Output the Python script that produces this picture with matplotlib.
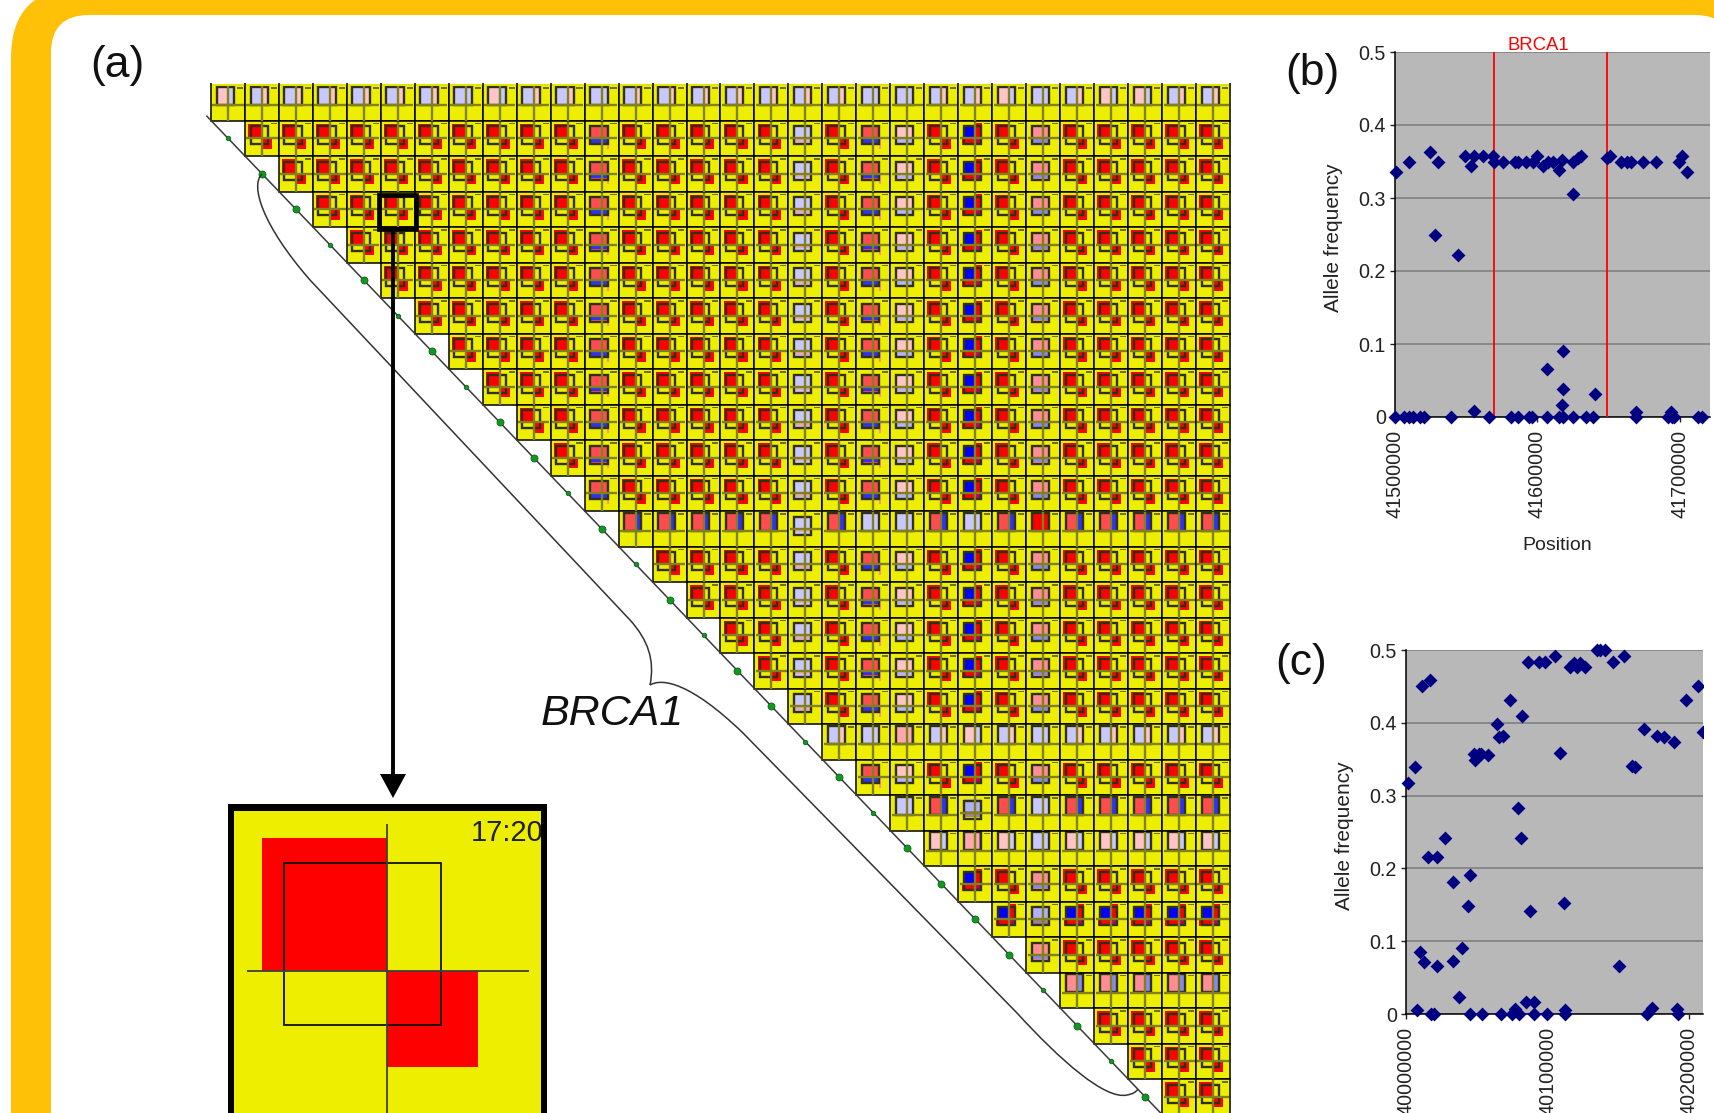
import matplotlib

matplotlib.use("Agg")
import matplotlib.pyplot as plt
from matplotlib.patches import FancyBboxPatch, PathPatch, Polygon, Rectangle
from matplotlib.path import Path
from matplotlib.transforms import Bbox, TransformedBbox

plt.rcParams["font.family"] = ["Liberation Sans", "DejaVu Sans"]

W, H = 1715, 1113

# ---- LD triangle: one letter per cell, each row starts on the diagonal
NORMAL = "nnnnnnnnnnnhnnnnnknhpnbnqnnnnn"
LD_ROWS = {
    0: "wvvvvvvlwvvlvvvvvvvllvvwlvwwvv",
    12: "xxxxxkxllxlxrxxxxx",
    18: "vlsvwvlvvvvv",
    20: "lxmxlxxxxx",
    21: "wswlwwwww",
    23: "bmbbbbb",
    25: "ttttt",
}
N_ROWS = 29
MARKER_CLASS = list("sLLsLsLsLLsLsLsLLsLsLLLLsLsL")

# ---- panel (b)
B_X = [41500700, 41510100, 41524600, 41530400, 41528100, 41544400, 41549100, 41553100,
       41555400, 41562000, 41568500, 41569500, 41576000, 41584200, 41586500, 41591900,
       41596600, 41599400, 41604100, 41607600, 41610600, 41615300, 41617000, 41624700,
       41625100, 41628600, 41630300, 41649000, 41650900, 41658400, 41662600, 41665400,
       41673800, 41683100, 41699500, 41701200, 41704700,
       41618100, 41606900, 41618100, 41640300, 41617400, 41555400, 41668900, 41693700,
       41500000, 41506300, 41510100, 41512900, 41517500, 41520300, 41539100, 41565700,
       41581200, 41586500, 41594300, 41596400, 41606900, 41615300, 41618100, 41625100,
       41634000, 41639200, 41668900, 41691800, 41694100, 41695800, 41712800, 41715200]
B_Y = [.336, .350, .3625, .350, .249, .222, .357, .344,
       .357, .357, .357, .350, .350, .350, .350, .350,
       .350, .357, .344, .350, .350, .338, .352, .306,
       .350, .355, .357, .355, .357, .350, .350, .350,
       .350, .350, .350, .357, .336,
       .091, .066, .039, .032, .016, .008, .007, .007,
       0, 0, 0, 0, 0, 0, 0, 0,
       0, 0, 0, 0, 0, 0, 0, 0,
       0, 0, 0, 0, 0, 0, 0, 0]
B_GENE = [41569474, 41648772]
B_XTICKS = [41500000, 41600000, 41700000]

# ---- panel (c)
C_X = [40001200, 40006600, 40011000, 40017100, 40015700, 40021800, 40027700, 40033500,
       40045000, 40043900, 40009800, 40012900, 40021800, 40033500, 40039400, 40037100,
       40048100, 40048500, 40051600, 40053200, 40057900, 40064500, 40065700, 40068500,
       40073200, 40081600, 40079300, 40080900, 40087900, 40086300, 40093800, 40097800,
       40105100, 40109000, 40111900, 40116100, 40118400, 40120800, 40122600, 40126200,
       40134800, 40137200, 40140700, 40146100, 40153600, 40150100, 40159500, 40161800,
       40168100, 40177000, 40182200, 40189500, 40197400, 40206400, 40209900,
       40007700, 40084400, 40090300, 40076900, 40112600, 40173500, 40191100,
       40017600, 40019900, 40045000, 40053900, 40066800, 40075000, 40079700, 40090300,
       40099700, 40112600, 40170000, 40192300]
C_Y = [.317, .339, .450, .459, .215, .215, .242, .182,
       .191, .149, .085, .072, .066, .073, .091, .023,
       .357, .349, .357, .357, .356, .398, .380, .382,
       .432, .409, .283, .242, .141, .483, .483, .483,
       .492, .358, .152, .476, .482, .476, .482, .476,
       .500, .500, .500, .483, .492, .066, .341, .339,
       .392, .382, .380, .374, .432, .450, .387,
       .006, .016, .016, .007, .006, .008, .007,
       0, 0, 0, 0, 0, 0, 0, 0,
       0, 0, 0, 0]
C_XTICKS = [40000000, 40100000, 40200000]
Y_TICKS = [0, 0.1, 0.2, 0.3, 0.4, 0.5]
Y_LABELS = ["0", "0.1", "0.2", "0.3", "0.4", "0.5"]

YELLOW = "#EEEE00"
RED = "#FF0000"
LAV = "#C8C8FF"
PINK = "#FFC4C8"
SRED = "#FF4C50"
SBLUE = "#3030F8"
MPINK = "#FF8C96"
MLAV = "#8888F0"

# what is painted inside a cell, in fractions of the cell
GLYPHS = {
    "N": [(.09, .085, .5, .5, RED), (.5, .5, .795, .80, RED)],
    "n": [(.09, .085, .5, .5, RED), (.5, .5, .795, .80, RED), (.48, .47, .54, .53, "#5030C0")],
    "h": [(.16, .14, .67, .5, SRED), (.16, .5, .67, .62, SBLUE), (.16, .62, .67, .68, SRED),
          (.67, .5, .72, .8, "#FF9090")],
    "p": [(.16, .14, .67, .5, PINK), (.16, .5, .67, .62, "#B4B4F8"), (.16, .62, .67, .68, PINK)],
    "q": [(.16, .14, .67, .5, MPINK), (.16, .5, .67, .62, MLAV), (.16, .62, .67, .68, MPINK)],
    "k": [(.16, .14, .67, .48, LAV), (.16, .48, .67, .6, "#E8A8B0"), (.16, .6, .67, .68, LAV)],
    "l": [(.16, .05, .67, .55, LAV)],
    "b": [(.5, .08, .7, .5, RED), (.1, .5, .5, .7, RED), (.16, .16, .5, .5, "#0000FF"),
          (.5, .5, .66, .66, "#C00060")],
    "v": [(.16, .05, .5, .55, LAV), (.5, .05, .66, .55, PINK)],
    "w": [(.16, .05, .46, .55, PINK), (.46, .05, .66, .55, LAV)],
    "t": [(.16, .05, .46, .55, MPINK), (.46, .05, .66, .55, MLAV)],
    "x": [(.16, .05, .48, .55, SRED), (.48, .05, .64, .55, SBLUE)],
    "r": [(.16, .05, .67, .55, RED)],
    "s": [(.16, .05, .67, .55, "#FFA8B0"), (.6, .05, .67, .55, "#A08098")],
    "m": [(.16, .12, .67, .46, "#B0B0F8"), (.16, .46, .67, .62, "#A08098")],
}
HIGH_KINDS = "lvwtxrs"  # these sit higher in their cell


def px_axes(fig, x0, y0, x1, y1, zorder=1):
    ax = fig.add_axes([x0 / W, 1 - y1 / H, (x1 - x0) / W, (y1 - y0) / H], zorder=zorder)
    ax.patch.set_alpha(0)
    return ax


def draw_glyph(ax, col, row, kind, cross, square, cross_lw, square_lw):
    for x0, y0, x1, y1, colour in GLYPHS[kind]:
        ax.add_patch(Rectangle((col + x0, row + y0), x1 - x0, y1 - y0, fc=colour, ec="none"))
    hy, sy, sh = (.57, .05, .5) if kind in HIGH_KINDS else (.5, .1625, .5075)
    ax.plot([col + .043, col + .96], [row + hy, row + hy], color=cross, lw=cross_lw, solid_capstyle="butt")
    ax.plot([col + .5, col + .5], [row + .04, row + 1], color=cross, lw=cross_lw, solid_capstyle="butt")
    ax.add_patch(Rectangle((col + .163, row + sy), .511, sh, fc="none", ec=square, lw=square_lw))


def scatter_panel(ax, xs, ys, xlim, xticks):
    ax.set_facecolor("#B8B8B8")
    ax.patch.set_alpha(1)
    ax.set_xlim(*xlim)
    ax.set_ylim(0, 0.5)
    ax.set_yticks(Y_TICKS, Y_LABELS)
    ax.set_xticks(xticks, [str(t) for t in xticks], rotation=90)
    ax.tick_params(axis="y", labelsize=14.2, length=3.5, width=1, pad=3, colors="#222222")
    ax.tick_params(axis="x", labelsize=14.2, length=3.5, width=1, pad=6, colors="#222222")
    ax.yaxis.grid(True, color="#808080", lw=1.2)
    ax.set_axisbelow(True)
    for side in ["top", "right"]:
        ax.spines[side].set_visible(False)
    for side in ["left", "bottom"]:
        ax.spines[side].set_linewidth(1.1)
    pts = ax.scatter(xs, ys, marker="D", s=50, color="#000080", linewidths=0, zorder=5)
    pts.set_clip_box(TransformedBbox(Bbox([[-0.03, -0.05], [1, 1.05]]), ax.transAxes))


fig = plt.figure(figsize=(W / 100, H / 100), dpi=100, facecolor="white")

# page background
bg = px_axes(fig, 0, 0, W, H, zorder=0)
bg.set_xlim(0, W)
bg.set_ylim(H, 0)
bg.axis("off")
bg.add_patch(FancyBboxPatch((11, -12), 1900, 1400, boxstyle="round,pad=0,rounding_size=70",
                            fc="#FFC008", ec="none"))
bg.add_patch(FancyBboxPatch((51, 15), 1682, 1400, boxstyle="round,pad=0,rounding_size=38",
                            fc="white", ec="none"))
bg.add_patch(Rectangle((228, 804), 319, 400, fc="black", ec="none"))  # inset frame

# LD triangle
ld = px_axes(fig, 211, 85, 1230, 85 + N_ROWS * 35.5, zorder=2)
ld.set_xlim(0, 30)
ld.set_ylim(N_ROWS, 0)
ld.axis("off")
for r in range(N_ROWS):
    kinds = LD_ROWS.get(r, NORMAL[r:])
    for i, kind in enumerate(kinds):
        c = r + i
        ld.add_patch(Rectangle((c, r), 1, 1, fc=YELLOW, ec="none"))
        draw_glyph(ld, c, r, kind, "#80801C", "#303018", 1.7, 1.7)
        ld.add_patch(Rectangle((c + .76, r + .07), .18, .035, fc="#70701A", ec="none"))
        ld.add_patch(Rectangle((c, r), 1, 1, fc="none", ec="black", lw=1.1, clip_on=False))
ld.plot([0, 30], [0, 0], color="#E8E800", lw=1.4, clip_on=False, zorder=5)
ld.vlines(range(31), -.06, .04, color="black", lw=1.1, clip_on=False, zorder=6)
ld.plot([-.12, N_ROWS + 1], [.88, N_ROWS + 2], color="#3A3A3A", lw=1.1, clip_on=False)
for i, cls in enumerate(MARKER_CLASS):
    ld.scatter(i + .5, i + 1.5, s=26 if cls == "L" else 11, color="#0E9A1A",
               edgecolors="#105020", linewidths=.5, zorder=6, clip_on=False)

# enlarged cell
ins = px_axes(fig, 234, 811, 541, 1131, zorder=3)
ins.set_xlim(0, 1)
ins.set_ylim(1, 0)
ins.axis("off")
ins.add_patch(Rectangle((0, 0), 1, 1, fc=YELLOW, ec="none"))
draw_glyph(ins, 0, 0, "N", "#404040", "#101000", 1.3, 1.3)
ins.text(1.008, .07, "17:20", ha="right", va="center", fontsize=21, color="#202020", clip_on=True)

# annotations in page pixels
top = px_axes(fig, 0, 0, W, H, zorder=4)
top.set_xlim(0, W)
top.set_ylim(H, 0)
top.axis("off")
top.add_patch(Rectangle((379, 195), 37, 34, fc="none", ec="black", lw=3.4))
top.plot([393, 393], [229, 780], color="black", lw=2.8, solid_capstyle="butt")
top.add_patch(Polygon([[380, 774], [406, 774], [393, 798]], fc="black", ec="none"))

M, C, L = Path.MOVETO, Path.CURVE4, Path.LINETO
upper = Path([(262, 174), (250, 185), (262, 225), (310, 280), (630, 620), (648, 640), (655, 660), (650, 685)],
             [M, C, C, C, L, C, C, C])
lower = Path([(650, 685), (662, 678), (690, 682), (743, 733), (1017, 1013), (1060, 1060), (1105, 1100),
              (1127, 1095), (1133, 1094), (1136, 1092), (1138, 1089)],
             [M, C, C, C, L, C, C, C, C, C, C])
for brace in [upper, lower]:
    top.add_patch(PathPatch(brace, fc="none", ec="#333333", lw=1.1))

top.text(90, 66, "(a)", fontsize=32, ha="left", va="center", color="#111111")
top.text(1285, 73, "(b)", fontsize=32, ha="left", va="center", color="#111111")
top.text(1275, 663, "(c)", fontsize=32, ha="left", va="center", color="#111111")
top.text(541, 714, "BRCA1", fontsize=31, style="italic", ha="left", va="center", color="#111111")
top.text(1538, 45, "BRCA1", fontsize=13.3, ha="center", va="center", color="#FF0000")
top.text(1557, 546, "Position", fontsize=14, ha="center", va="center", color="#222222")
top.text(1334, 238, "Allele frequency", fontsize=15, rotation=90, ha="center", va="center", color="#222222")
top.text(1345, 836, "Allele frequency", fontsize=15, rotation=90, ha="center", va="center", color="#222222")

# panel (b)
ax_b = px_axes(fig, 1395, 52, 1710, 417, zorder=2)
scatter_panel(ax_b, B_X, B_Y, (41500000, 41721053), B_XTICKS)
for g in B_GENE:
    ax_b.axvline(g, color="#FF0000", lw=1.3, zorder=4)

# panel (c)
ax_c = px_axes(fig, 1406, 650, 1703, 1014, zorder=2)
scatter_panel(ax_c, C_X, C_Y, (40000300, 40209700), C_XTICKS)

fig.savefig("out.png", dpi=100)
